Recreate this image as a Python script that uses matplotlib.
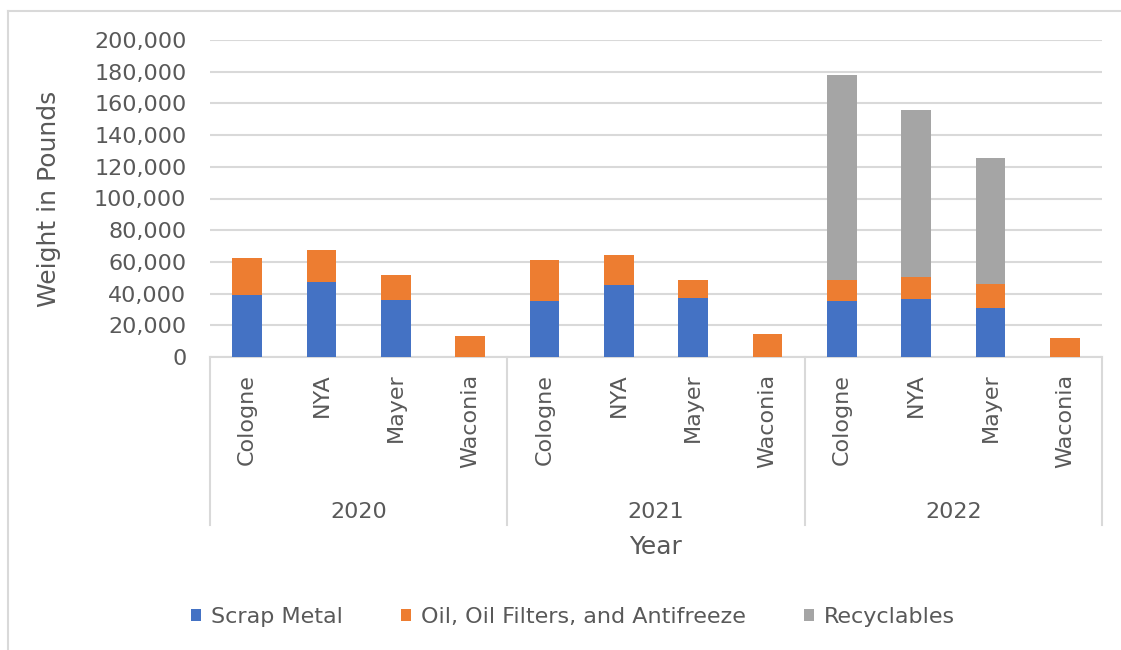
import matplotlib as mpl
mpl.use('Agg')
import matplotlib.pyplot as plt
from matplotlib.lines import Line2D
from matplotlib.ticker import FuncFormatter
import numpy as np

years = ["2020", "2021", "2022"]
sites = ["Cologne", "NYA", "Mayer", "Waconia"]

scrap_metal = [39200, 47300, 35800, 0,
               35600, 45600, 37300, 0,
               35500, 36300, 31100, 0]
oil_filters = [23300, 20000, 16100, 13300,
               25900, 18800, 11000, 14800,
               13200, 14300, 15100, 12200]
recyclables = [0, 0, 0, 0,
               0, 0, 0, 0,
               129100, 105400, 79300, 0]

series_names = ["Scrap Metal", "Oil, Oil Filters, and Antifreeze", "Recyclables"]
colors = ["#4472C4", "#ED7D31", "#A5A5A5"]
text_col = "#595959"
grid_col = "#D9D9D9"

plt.rcParams['font.family'] = ['DejaVu Sans']
plt.rcParams['text.color'] = text_col

W, H = 1121, 650
fig = plt.figure(figsize=(W / 100, H / 100), dpi=100)
ax = fig.add_axes([210 / W, 1 - 357 / H, (1102 - 210) / W, (357 - 40) / H])

x = np.arange(len(scrap_metal))
labels = sites * len(years)
bw = 0.40
bottom = np.zeros(len(x))
for vals, name, c in zip([scrap_metal, oil_filters, recyclables], series_names, colors):
    v = np.array(vals, dtype=float)
    ax.bar(x, v, bw, bottom=bottom, color=c, label=name, zorder=3)
    bottom += v

ax.set_xlim(-0.5, len(x) - 0.5)
ax.set_ylim(0, 200000)
ax.set_yticks(np.arange(0, 200001, 20000))
ax.yaxis.set_major_formatter(FuncFormatter(lambda v, p: f"{int(v):,}"))
ax.grid(axis='y', color=grid_col, linewidth=1.5, zorder=0)
ax.tick_params(axis='y', length=0, pad=17, labelsize=16, labelcolor=text_col)
for s in ['top', 'right', 'left']:
    ax.spines[s].set_visible(False)
ax.spines['bottom'].set_color(grid_col)
ax.spines['bottom'].set_linewidth(1.5)

ax.set_xticks(x)
ax.set_xticklabels(labels, rotation=90, fontsize=16, color=text_col)
ax.tick_params(axis='x', length=0, pad=12)

ax.set_ylabel("Weight in Pounds", fontsize=18, color=text_col, labelpad=24)

# group separators and year labels
tr = ax.get_xaxis_transform()
h_ax = 357 - 40
depth = -(525 - 357) / h_ax
for i in range(len(years) + 1):
    xs = i * len(sites) - 0.5
    ax.add_line(Line2D([xs, xs], [0, depth], transform=tr, color=grid_col,
                       linewidth=1.5, clip_on=False))
for i, yr in enumerate(years):
    ax.text(i * len(sites) + 1.5, -(512 - 357) / h_ax, yr, transform=tr,
            ha='center', va='center', fontsize=16, color=text_col)
ax.text(5.5, -(547 - 357) / h_ax, "Year", transform=tr,
        ha='center', va='center', fontsize=18, color=text_col)

fig.legend(loc='center', bbox_to_anchor=(573 / W, 1 - 617 / H), ncol=3,
           frameon=False, fontsize=16, handlelength=0.45, handleheight=0.45,
           handletextpad=0.45, columnspacing=2.6, labelcolor=text_col)

# chart area border
fig.add_artist(Line2D([8 / W, 1], [1 - 11 / H, 1 - 11 / H], color=grid_col, linewidth=1.5))
fig.add_artist(Line2D([8 / W, 8 / W], [0, 1 - 11 / H], color=grid_col, linewidth=1.5))

fig.savefig("out.png", dpi=100)
